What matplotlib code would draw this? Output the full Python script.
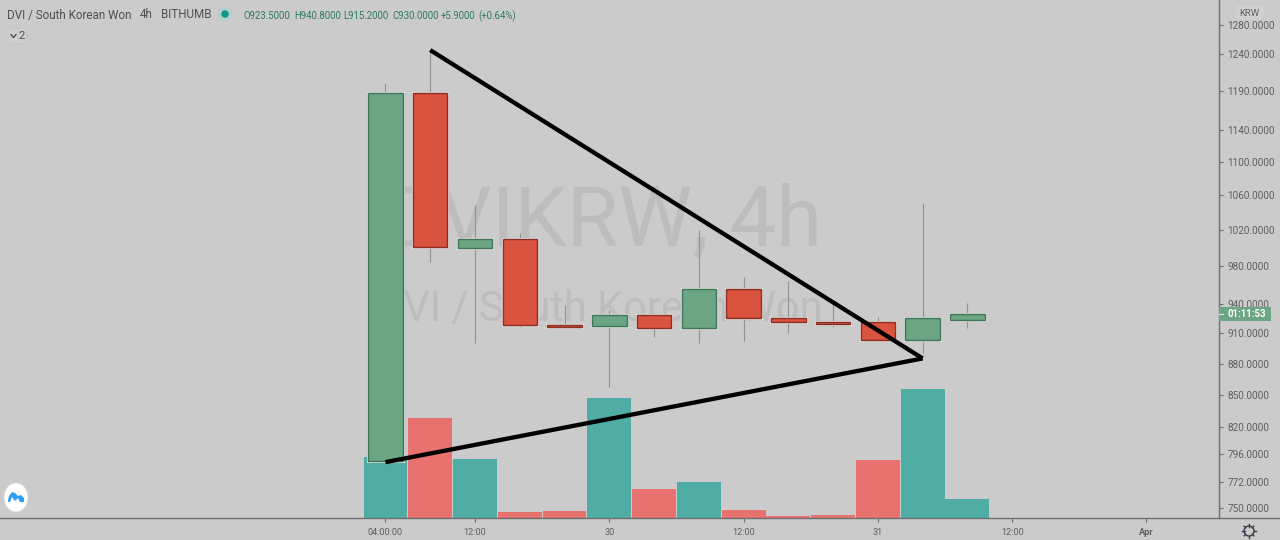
import math

import matplotlib
matplotlib.use("Agg")
import matplotlib.pyplot as plt
from matplotlib.lines import Line2D
from matplotlib.patches import Circle, Ellipse, FancyBboxPatch, Polygon, Rectangle
from matplotlib.transforms import Affine2D

# 4h candles
opens = [790, 1187, 1000, 1010, 918, 917, 929, 915.5, 956, 925, 921, 921, 903.5, 923.5]
closes = [1187, 1001, 1010, 918, 916.5, 929, 915, 956, 925, 921, 919.5, 903, 925, 930]
highs = [1200, 1245, 1049, 1017, 939, 934, 931, 1020, 968, 964, 943, 927, 1051, 940.8]
lows = [784, 985, 900, 916, 916, 857, 906, 900, 902, 910, 916, 903, 890, 915.2]
# volume, in units of the pane height
volumes = [61, 100.5, 59.5, 6.5, 7, 120.5, 29.5, 36.5, 8, 2, 3, 58, 129, 19]

price_ticks = [1280, 1240, 1190, 1140, 1100, 1060, 1020, 980, 940, 910, 880, 850, 820, 796, 772, 750]
time_ticks = [0, 2, 5, 8, 11, 14, 17]
time_labels = ["04:00:00", "12:00", "30", "12:00", "31", "12:00", "Apr"]

# trend lines, (candle index, price)
upper_x = [1, 12]
upper_y = [1245, 885]
lower_x = [0, 12]
lower_y = [789, 885]

BG = "#cbcbcb"
GREEN = "#6ba583"
RED = "#d9533f"
GREEN_EDGE = "#3f7656"
RED_EDGE = "#8a2f24"
VOL_GREEN = "#50ada5"
VOL_RED = "#e8726f"
AXIS = "#6f6f6f"
TEXT = "#5f5f5f"
OHLC = "#2f7a5c"

plt.rcParams["font.family"] = ["Roboto", "DejaVu Sans"]

fig = plt.figure(figsize=(12.8, 5.4), dpi=100, facecolor=BG)
rect = [0, 22 / 540, 1219 / 1280, 518 / 540]
x = list(range(len(opens)))
xlim = (-8.61, 18.62)
up = [c >= o for o, c in zip(opens, closes)]


def ftext(px, py, s, **kw):
    kw.setdefault("va", "center")
    kw.setdefault("color", TEXT)
    kw.setdefault("fontsize", 8)
    return fig.text(px / 1280, 1 - py / 540, s, **kw)


# pixel coordinates, origin top left
px = Affine2D().scale(1, -1).translate(0, 540)

ax_vol = fig.add_axes(rect, facecolor=BG)
ax_vol.set_xlim(*xlim)
ax_vol.set_ylim(0, 518)
ax_vol.bar(x, volumes, width=0.98, color=[VOL_GREEN if u else VOL_RED for u in up], zorder=2)
ax_vol.set_xticks([])
ax_vol.set_yticks([])
for s in ax_vol.spines.values():
    s.set_visible(False)
ax_vol.text(0.495, 0.572, "DVIKRW, 4h", transform=ax_vol.transAxes, ha="center", va="center",
            fontsize=60, color="#bdbdbd", zorder=1)
ax_vol.text(0.492, 0.402, "DVI / South Korean Won", transform=ax_vol.transAxes, ha="center", va="center",
            fontsize=30, color="#bdbdbd", zorder=1)

ax = fig.add_axes(rect, facecolor="none")
ax.set_yscale("log")
ax.set_xlim(*xlim)
ax.set_ylim(741.7, 1316)
ax.vlines(x, lows, highs, color="#929292", lw=0.8, zorder=2)
bottoms = [min(o, c) for o, c in zip(opens, closes)]
heights = [abs(c - o) for o, c in zip(opens, closes)]
ax.bar(x, heights, bottom=bottoms, width=0.77, color="none", edgecolor="#dedede", lw=2.2, zorder=3)
ax.bar(x, heights, bottom=bottoms, width=0.77,
       color=[GREEN if u else RED for u in up],
       edgecolor=[GREEN_EDGE if u else RED_EDGE for u in up], lw=1.0, zorder=4)
ax.plot(upper_x, upper_y, color="black", lw=3.1, solid_capstyle="butt", zorder=5)
ax.plot(lower_x, lower_y, color="black", lw=3.1, solid_capstyle="butt", zorder=5)

ax.yaxis.tick_right()
ax.set_yticks(price_ticks, [f"{p:.4f}" for p in price_ticks])
ax.minorticks_off()
ax.tick_params(axis="y", length=3, width=0.8, color=AXIS, labelcolor=TEXT, labelsize=7.2, pad=3)
ax.set_xticks(time_ticks, time_labels)
ax.tick_params(axis="x", length=3, width=0.8, color=AXIS, labelcolor=TEXT, labelsize=6.6, pad=4.5)
ax.get_xticklabels()[-1].set_fontweight("bold")
for name, s in ax.spines.items():
    s.set_visible(name in ("right", "bottom"))
    s.set_color(AXIS)
    s.set_linewidth(1.0)
fig.add_artist(Line2D([1219, 1280], [518, 518], color=AXIS, lw=1.0, transform=px))

# header
ftext(7, 15, "DVI / South Korean Won", color="#4f4f4f", fontsize=8.35)
ftext(140, 15, "4h", color="#4f4f4f", fontsize=8.35)
ftext(161, 15, "BITHUMB", color="#4f4f4f", fontsize=8.35)
fig.add_artist(Circle((225, 14), 6.5, color="#b4cfca", transform=px))
fig.add_artist(Circle((225, 14), 3, color="#089a83", transform=px))
for lx, s in [(244, "O923.5000"), (294, "H940.8000"), (343, "L915.2000"), (392, "C930.0000"), (441, "+5.9000"), (478, "(+0.64%)")]:
    ftext(lx, 16, s, color=OHLC, fontsize=6.9)
fig.add_artist(FancyBboxPatch((8, 28), 19, 16, boxstyle="round,pad=0,rounding_size=2", fc="#cfcfcf", ec="#c6c6c6", lw=0.8, transform=px))
fig.add_artist(Line2D([11, 13.5, 16], [34.5, 37.5, 34.5], color="#444444", lw=0.9, transform=px))
ftext(22, 36, "2", ha="center", color="#4f4f4f", fontsize=8)

# right scale extras
fig.add_artist(FancyBboxPatch((1236, 6), 27, 13, boxstyle="round,pad=0,rounding_size=2", fc="#d0d0d0", ec="none", transform=px))
ftext(1249.5, 13, "KRW", ha="center", fontsize=6.8)
fig.add_artist(Rectangle((1219, 307), 52, 14, fc=GREEN, ec="none", transform=px, zorder=5))
fig.add_artist(Line2D([1219, 1223], [314, 314], color="#e6e6e6", lw=0.8, transform=px, zorder=6))
ftext(1246.5, 314, "01:11:53", ha="center", color="white", fontsize=6.9, fontweight="bold", zorder=6)

# settings gear
for i in range(8):
    a = i * math.pi / 4
    fig.add_artist(Line2D([1249 + 4.5 * math.cos(a), 1249 + 6.8 * math.cos(a)],
                          [531 + 4.5 * math.sin(a), 531 + 6.8 * math.sin(a)],
                          color="#3a3f4a", lw=1.0, transform=px))
fig.add_artist(Circle((1249, 531), 5, fc=BG, ec="#3a3f4a", lw=1.0, transform=px))

# logo
fig.add_artist(Ellipse((16, 497.5), 24, 29, fc="white", ec="#dddddd", lw=0.5, transform=px))
fig.add_artist(Polygon([(8, 500), (9, 496), (12, 492), (15, 493), (18, 496), (21, 495), (24, 498), (24, 502),
                        (20, 502), (18, 498), (15, 501), (12, 497), (10, 502), (8, 502)],
                       closed=True, fc="#2e9ef5", ec="none", transform=px))

fig.savefig("out.png", dpi=100, facecolor=BG)
